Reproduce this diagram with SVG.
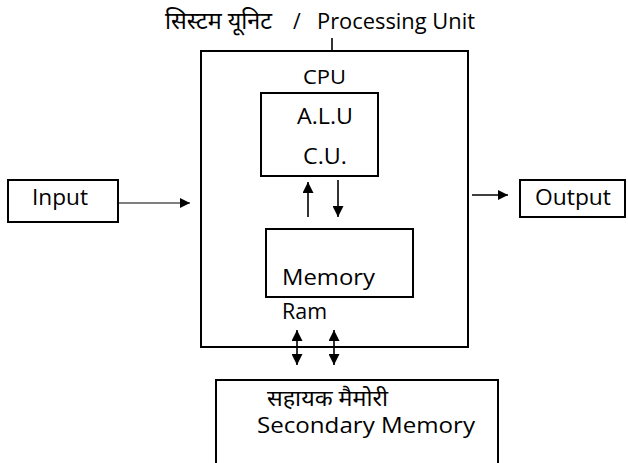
<svg xmlns="http://www.w3.org/2000/svg" width="628" height="463" viewBox="0 0 628 463">
<defs>
<style>
.box{fill:#fff;stroke:#000;stroke-width:2}
.t{font-family:"Open Sans","Noto Sans","Noto Sans Devanagari","DejaVu Sans",sans-serif;fill:#000}
.ln{stroke:#000;stroke-width:1.6;fill:none}
</style>
<marker id="ah" viewBox="0 0 10 10" refX="10" refY="5" markerWidth="12" markerHeight="10" markerUnits="userSpaceOnUse" orient="auto-start-reverse">
<path d="M0,0 L10,5 L0,10 Z" fill="#000"/>
</marker>
<marker id="ahs" viewBox="0 0 10 10" refX="10" refY="5" markerWidth="11" markerHeight="11" markerUnits="userSpaceOnUse" orient="auto-start-reverse">
<path d="M0,0 L10,5 L0,10 Z" fill="#000"/>
</marker>
</defs>
<rect width="628" height="463" fill="#fff"/>
<g id="title">
<text class="t" x="165" y="29" font-size="24" textLength="107" lengthAdjust="spacingAndGlyphs">सिस्टम यूनिट</text>
<text class="t" x="293" y="29" font-size="21">/</text>
<text class="t" x="317" y="29" font-size="21" textLength="158" lengthAdjust="spacingAndGlyphs">Processing Unit</text>
</g>
<g id="processing-unit">
<rect class="box" x="201" y="51" width="267" height="296"/>
<text class="t" x="303" y="84" font-size="20" textLength="43" lengthAdjust="spacingAndGlyphs">CPU</text>
</g>
<g id="cpu">
<rect class="box" x="261" y="93" width="117" height="83"/>
<text class="t" x="297" y="124" font-size="21" textLength="56" lengthAdjust="spacingAndGlyphs">A.L.U</text>
<text class="t" x="303" y="164" font-size="21" textLength="44" lengthAdjust="spacingAndGlyphs">C.U.</text>
</g>
<g id="memory">
<rect class="box" x="266" y="229" width="147" height="68"/>
<text class="t" x="282" y="285" font-size="22" textLength="93" lengthAdjust="spacingAndGlyphs">Memory</text>
<text class="t" x="282" y="319" font-size="21" textLength="45" lengthAdjust="spacingAndGlyphs">Ram</text>
</g>
<g id="input">
<rect class="box" x="8" y="180" width="110" height="42"/>
<text class="t" x="32" y="205" font-size="21" textLength="56" lengthAdjust="spacingAndGlyphs">Input</text>
</g>
<g id="output">
<rect class="box" x="520" y="180" width="105" height="37"/>
<text class="t" x="535" y="205" font-size="21" textLength="76" lengthAdjust="spacingAndGlyphs">Output</text>
</g>
<g id="secondary-memory">
<rect class="box" x="216" y="380" width="282" height="100"/>
<text class="t" x="267" y="406" font-size="22" textLength="121" lengthAdjust="spacingAndGlyphs">सहायक मैमोरी</text>
<text class="t" x="257" y="433" font-size="21" textLength="218" lengthAdjust="spacingAndGlyphs">Secondary Memory</text>
</g>
<g id="connectors">
<line class="ln" x1="332" y1="38" x2="332" y2="51"/>
<line x1="118" y1="203" x2="190" y2="203" stroke="#000" stroke-width="1.2" marker-end="url(#ah)"/>
<line class="ln" x1="472" y1="195" x2="508" y2="195" marker-end="url(#ah)"/>
<line class="ln" x1="308" y1="217" x2="308" y2="182" marker-end="url(#ahs)"/>
<line class="ln" x1="338" y1="180" x2="338" y2="217" marker-end="url(#ahs)"/>
<line class="ln" x1="297" y1="330" x2="297" y2="365" marker-start="url(#ahs)" marker-end="url(#ahs)"/>
<line class="ln" x1="334" y1="330" x2="334" y2="365" marker-start="url(#ahs)" marker-end="url(#ahs)"/>
</g>
</svg>
